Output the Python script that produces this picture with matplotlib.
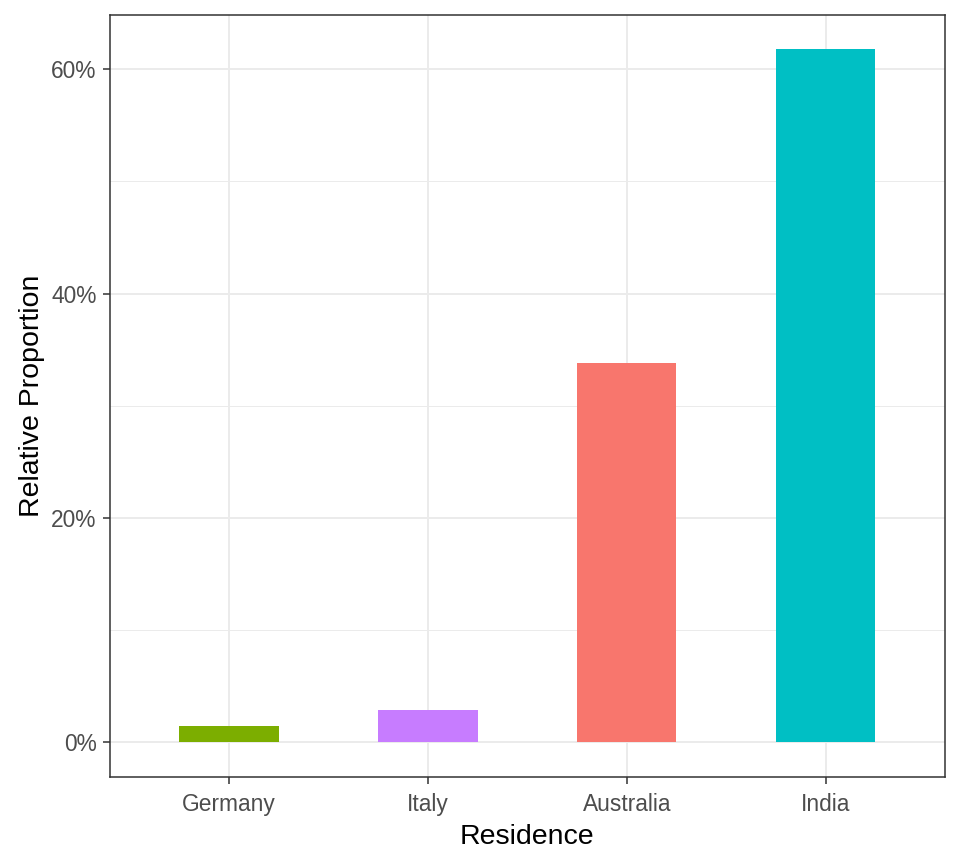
import matplotlib
matplotlib.use("Agg")
import matplotlib.pyplot as plt
from matplotlib.ticker import FuncFormatter, MultipleLocator

categories = ["Germany", "Italy", "Australia", "India"]
proportions = [0.0149, 0.0291, 0.3382, 0.6178]
colors = ["#7CAE00", "#C77CFF", "#F8766D", "#00BFC4"]

plt.rcParams['font.family'] = ['Liberation Sans', 'DejaVu Sans']

fig = plt.figure(figsize=(9.6, 8.64), dpi=100)
ax = fig.add_axes([109.5/960, (864-777)/864, (945-109.5)/960, (777-14.5)/864])

x = list(range(1, len(categories) + 1))
ax.bar(x, proportions, width=0.5, color=colors, zorder=3)

ymax = max(proportions)
ax.set_xlim(0.4, 4.6)
ax.set_ylim(-0.05*ymax, 1.05*ymax)

ax.set_xticks(x)
ax.set_xticklabels(categories)
ax.yaxis.set_major_locator(MultipleLocator(0.2))
ax.yaxis.set_minor_locator(MultipleLocator(0.1))
ax.yaxis.set_major_formatter(FuncFormatter(lambda v, p: f"{v*100:.0f}%"))

ax.grid(True, which='major', color='#EBEBEB', linewidth=1.4, zorder=0)
ax.grid(True, which='minor', axis='y', color='#EBEBEB', linewidth=0.7, zorder=0)
ax.set_axisbelow(True)

for s in ax.spines.values():
    s.set_color('#333333')
    s.set_linewidth(1.1)

ax.tick_params(axis='both', which='major', length=5.3, width=1.1, color='#333333',
               labelsize=16.4, labelcolor='#4D4D4D', pad=4)
ax.tick_params(axis='x', which='major', pad=6)
ax.tick_params(axis='y', which='minor', length=0)

ax.set_xlabel("Residence", fontsize=20.5, color='black', labelpad=6)
ax.set_ylabel("Relative Proportion", fontsize=20.5, color='black', labelpad=4.5)

fig.savefig("out.png", dpi=100, facecolor='white')
